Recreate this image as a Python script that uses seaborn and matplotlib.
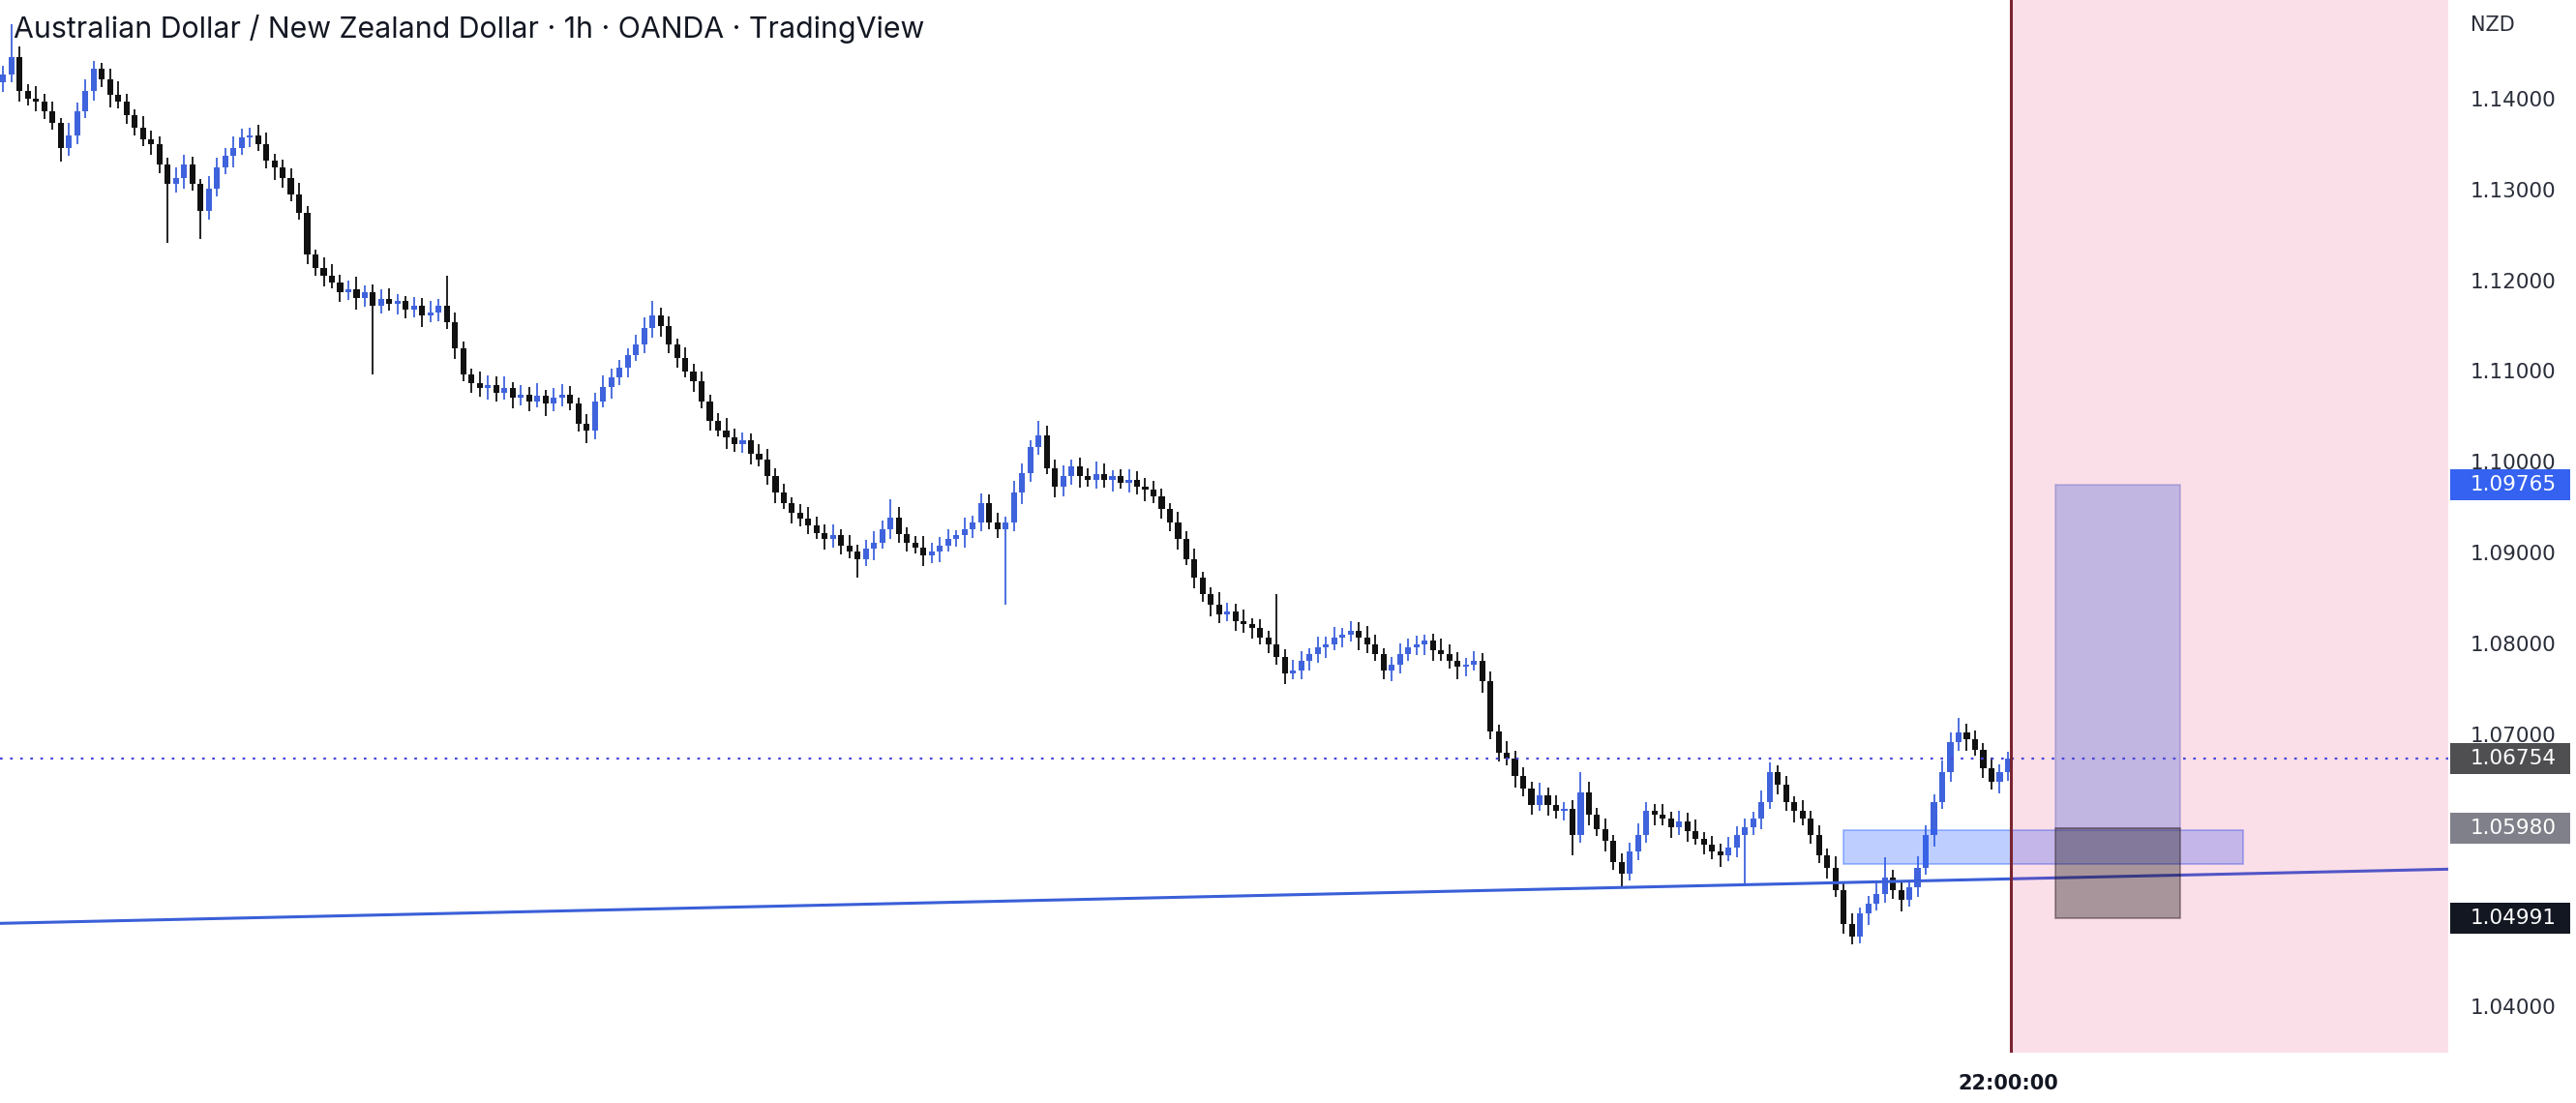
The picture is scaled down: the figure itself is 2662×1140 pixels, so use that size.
import numpy as np
import pandas as pd
import matplotlib
matplotlib.use("Agg")
import matplotlib.pyplot as plt
import matplotlib.transforms as mtransforms
from matplotlib.patches import Rectangle
import seaborn as sns

# ===================== data (prices in pips, 1 pip = 0.0001) =====================
close_pips = [
    11429, 11448, 11411, 11402, 11399, 11388, 11375, 11348, 11362, 11388,
    11411, 11435, 11424, 11406, 11399, 11384, 11370, 11357, 11352, 11330,
    11308, 11315, 11330, 11308, 11279, 11303, 11326, 11339, 11348, 11359,
    11362, 11352, 11334, 11326, 11315, 11297, 11276, 11230, 11216, 11207,
    11200, 11189, 11192, 11183, 11189, 11174, 11181, 11176, 11179, 11170,
    11174, 11163, 11167, 11174, 11156, 11127, 11098, 11089, 11083, 11087,
    11078, 11083, 11073, 11076, 11069, 11075, 11066, 11073, 11076, 11066,
    11044, 11037, 11069, 11084, 11095, 11106, 11120, 11131, 11149, 11163,
    11152, 11131, 11116, 11102, 11091, 11069, 11047, 11037, 11029, 11022,
    11026, 11011, 11004, 10986, 10968, 10957, 10946, 10939, 10932, 10924,
    10917, 10921, 10910, 10903, 10895, 10906, 10913, 10928, 10941, 10922,
    10913, 10908, 10899, 10903, 10910, 10917, 10921, 10928, 10935, 10957,
    10935, 10928, 10935, 10968, 10990, 11018, 11031, 10995, 10975, 10986,
    10997, 10986, 10982, 10989, 10982, 10986, 10979, 10982, 10975, 10971,
    10964, 10950, 10935, 10917, 10895, 10874, 10856, 10845, 10834, 10837,
    10827, 10823, 10819, 10808, 10801, 10787, 10769, 10772, 10783, 10790,
    10798, 10801, 10808, 10812, 10816, 10808, 10801, 10790, 10772, 10779,
    10790, 10798, 10801, 10805, 10794, 10790, 10783, 10776, 10779, 10783,
    10760, 10705, 10682, 10675, 10656, 10642, 10624, 10635, 10624, 10617,
    10620, 10591, 10638, 10613, 10597, 10584, 10561, 10548, 10573, 10591,
    10617, 10613, 10609, 10599, 10606, 10595, 10587, 10580, 10573, 10569,
    10577, 10591, 10599, 10609, 10627, 10660, 10646, 10627, 10617, 10609,
    10591, 10569, 10555, 10530, 10493, 10479, 10504, 10515, 10526, 10544,
    10530, 10519, 10533, 10555, 10591, 10627, 10660, 10693, 10704, 10696,
    10685, 10664, 10649, 10660, 10675,
]
first_open_pips = 11420

# upper / lower wick length beyond the body (pips)
hi_ext = [
    9, 36, 12, 7, 14, 8, 11, 6, 13, 10,
    12, 9, 7, 11, 15, 8, 6, 13, 10, 9,
    7, 12, 10, 8, 6, 14, 11, 9, 13, 10,
    8, 11, 13, 7, 9, 10, 12, 8, 6, 11,
    13, 8, 10, 14, 7, 9, 11, 12, 8, 6,
    10, 9, 12, 7, 33, 11, 8, 7, 12, 10,
    9, 13, 7, 11, 8, 14, 6, 10, 12, 9,
    7, 11, 9, 13, 10, 8, 7, 11, 12, 16,
    9, 10, 7, 12, 8, 11, 7, 9, 13, 10,
    8, 7, 11, 12, 9, 10, 6, 9, 13, 10,
    9, 12, 7, 11, 8, 10, 13, 9, 20, 11,
    8, 7, 12, 10, 9, 11, 6, 13, 8, 10,
    9, 11, 7, 13, 10, 8, 16, 11, 9, 12,
    7, 10, 9, 13, 11, 7, 8, 12, 10, 9,
    10, 8, 7, 12, 9, 11, 7, 8, 13, 10,
    9, 12, 7, 10, 8, 55, 9, 12, 10, 7,
    11, 8, 12, 7, 10, 9, 13, 11, 7, 8,
    12, 9, 10, 7, 8, 13, 11, 9, 7, 10,
    8, 11, 7, 12, 9, 10, 7, 13, 8, 11,
    7, 9, 22, 11, 8, 12, 7, 10, 9, 13,
    10, 8, 12, 7, 11, 9, 13, 7, 10, 8,
    12, 9, 10, 7, 13, 11, 8, 10, 7, 12,
    9, 10, 7, 12, 8, 11, 7, 9, 13, 22,
    8, 11, 7, 12, 10, 9, 13, 11, 16, 9,
    10, 7, 12, 9, 8,
]
lo_ext = [
    10, 9, 12, 7, 11, 8, 7, 15, 9, 10,
    7, 11, 9, 13, 7, 10, 8, 7, 12, 10,
    65, 9, 12, 7, 31, 10, 9, 7, 12, 8,
    10, 7, 9, 13, 11, 8, 7, 10, 9, 12,
    7, 11, 9, 13, 10, 76, 8, 7, 12, 10,
    9, 12, 7, 10, 8, 12, 7, 11, 9, 12,
    10, 7, 12, 9, 11, 7, 13, 8, 10, 7,
    9, 14, 10, 7, 12, 8, 11, 7, 9, 10,
    12, 9, 10, 7, 12, 8, 11, 7, 13, 9,
    10, 12, 7, 9, 11, 7, 12, 8, 10, 7,
    12, 9, 10, 7, 21, 8, 12, 7, 11, 9,
    10, 7, 12, 9, 11, 7, 8, 13, 10, 9,
    7, 10, 83, 9, 12, 10, 8, 7, 12, 11,
    9, 12, 7, 10, 8, 13, 7, 11, 9, 12,
    7, 10, 9, 12, 7, 11, 8, 13, 10, 7,
    11, 9, 12, 7, 10, 8, 12, 7, 9, 11,
    9, 12, 7, 10, 8, 13, 10, 7, 9, 12,
    10, 7, 9, 12, 11, 7, 9, 13, 10, 7,
    12, 9, 10, 7, 13, 9, 11, 7, 12, 8,
    10, 22, 9, 12, 7, 11, 8, 15, 7, 10,
    9, 12, 7, 11, 8, 12, 7, 10, 9, 13,
    7, 11, 54, 8, 12, 7, 10, 9, 12, 7,
    10, 9, 12, 7, 11, 9, 8, 12, 7, 10,
    9, 12, 7, 10, 8, 13, 7, 11, 9, 12,
    7, 10, 8, 12, 9,
]

price_ticks = [1.14, 1.13, 1.12, 1.11, 1.10, 1.09, 1.08, 1.07, 1.06, 1.05, 1.04]

# drawings
trend_x = [-0.4, 297.6]
trend_y = [1.04935, 1.05532]
zone_top, zone_bottom = 1.05967, 1.05587
target_price, entry_price, stop_price = 1.09765, 1.05980, 1.04991
last_price = 1.06754

label_prices = [1.09765, 1.06754, 1.05980, 1.04991]
label_colors = ["#3562f0", "#4f4f52", "#7f8089", "#131722"]

title_text = "Australian Dollar / New Zealand Dollar \u00b7 1h \u00b7 OANDA \u00b7 TradingView"
time_label = "22:00:00"

# ===================== layout =====================
W, H = 2662, 1140
sns.set_theme(style="white")
plt.rcParams['font.family'] = ['DejaVu Sans']

fig = plt.figure(figsize=(W / 100, H / 100), dpi=100)
fig.patch.set_facecolor("white")
ax = fig.add_axes([0, 52 / H, 2530 / W, 1 - 52 / H])
ax.set_xlim(-0.4, 297.6)
ax.set_ylim(1.03510, 1.15109)
ax.axis("off")

# -------------------- candles --------------------
close = np.array(close_pips) / 10000
opens = np.concatenate([[first_open_pips / 10000], close[:-1]])
df = pd.DataFrame({"open": opens, "close": close})
df["high"] = df[["open", "close"]].max(axis=1) + np.array(hi_ext) / 10000
df["low"] = df[["open", "close"]].min(axis=1) - np.array(lo_ext) / 10000
df["x"] = np.arange(len(df))
up_col, down_col = "#3f63dc", "#111111"
cols = np.where(df["close"] >= df["open"], up_col, down_col)

ax.vlines(df["x"], df["low"], df["high"], colors=cols, linewidth=1.3, zorder=1)
body = (df["close"] - df["open"]).values
body = np.where(np.abs(body) < 0.00008, np.sign(body + 1e-12) * 0.00008, body)
ax.bar(df["x"], body, bottom=df["open"], width=0.72, color=cols, linewidth=0, zorder=1)

# -------------------- drawings --------------------
ax.add_patch(Rectangle((224.0, zone_bottom), 48.6, zone_top - zone_bottom,
                       facecolor=(41 / 255, 98 / 255, 1, 0.30),
                       edgecolor=(41 / 255, 98 / 255, 1, 0.45), linewidth=1.2, zorder=2))
sns.lineplot(x=trend_x, y=trend_y, ax=ax, color="#3a5fd8", linewidth=2.2, zorder=2.5)

ax.axvspan(244.4, 297.6, color="#e91e63", alpha=0.14, linewidth=0, zorder=3)

ax.add_patch(Rectangle((249.8, entry_price), 15.2, target_price - entry_price,
                       facecolor=(108 / 255, 119 / 255, 215 / 255, 0.40),
                       edgecolor=(90 / 255, 90 / 255, 190 / 255, 0.35), linewidth=1.2, zorder=4))
ax.add_patch(Rectangle((249.8, stop_price), 15.2, entry_price - stop_price,
                       facecolor=(0, 0, 0, 0.33),
                       edgecolor=(40 / 255, 20 / 255, 30 / 255, 0.45), linewidth=1.2, zorder=4))

ax.axhline(last_price, color="#4646dc", linestyle=(0, (1.2, 3.5)), linewidth=1.6, zorder=5)
ax.axvline(244.4, color="#7a2431", linewidth=2.2, zorder=6)

# -------------------- right price scale --------------------
blend = mtransforms.blended_transform_factory(fig.transFigure, ax.transData)
for p in price_ticks:
    fig.text(2553 / W, p, f"{p:.5f}", transform=blend, va="center", ha="left",
             fontsize=15.5, color="#2a2e39")
fig.text(2553 / W, 1 - 26 / H, "NZD", va="center", ha="left", fontsize=15, color="#2a2e39")

half = 16 / 9380
for p, c in zip(label_prices, label_colors):
    fig.add_artist(Rectangle((2532 / W, p - half), 124 / W, 2 * half, transform=blend,
                             facecolor=c, edgecolor="none", zorder=10))
    fig.text(2553 / W, p, f"{p:.5f}", transform=blend, va="center", ha="left",
             fontsize=15.5, color="white", zorder=11)

# -------------------- title & time label --------------------
title = fig.text(14 / W, 1 - 30 / H, title_text, va="center", ha="left",
                 fontsize=20, color="#131722", family=["Inter", "DejaVu Sans"])
fig.text(2075 / W, 20 / H, time_label, va="center", ha="center",
         fontsize=15, fontweight="bold", color="#131722")

fig.canvas.draw()
w = title.get_window_extent().width
title.set_fontsize(20 * 942 / w)

fig.savefig("out.png", dpi=100)
